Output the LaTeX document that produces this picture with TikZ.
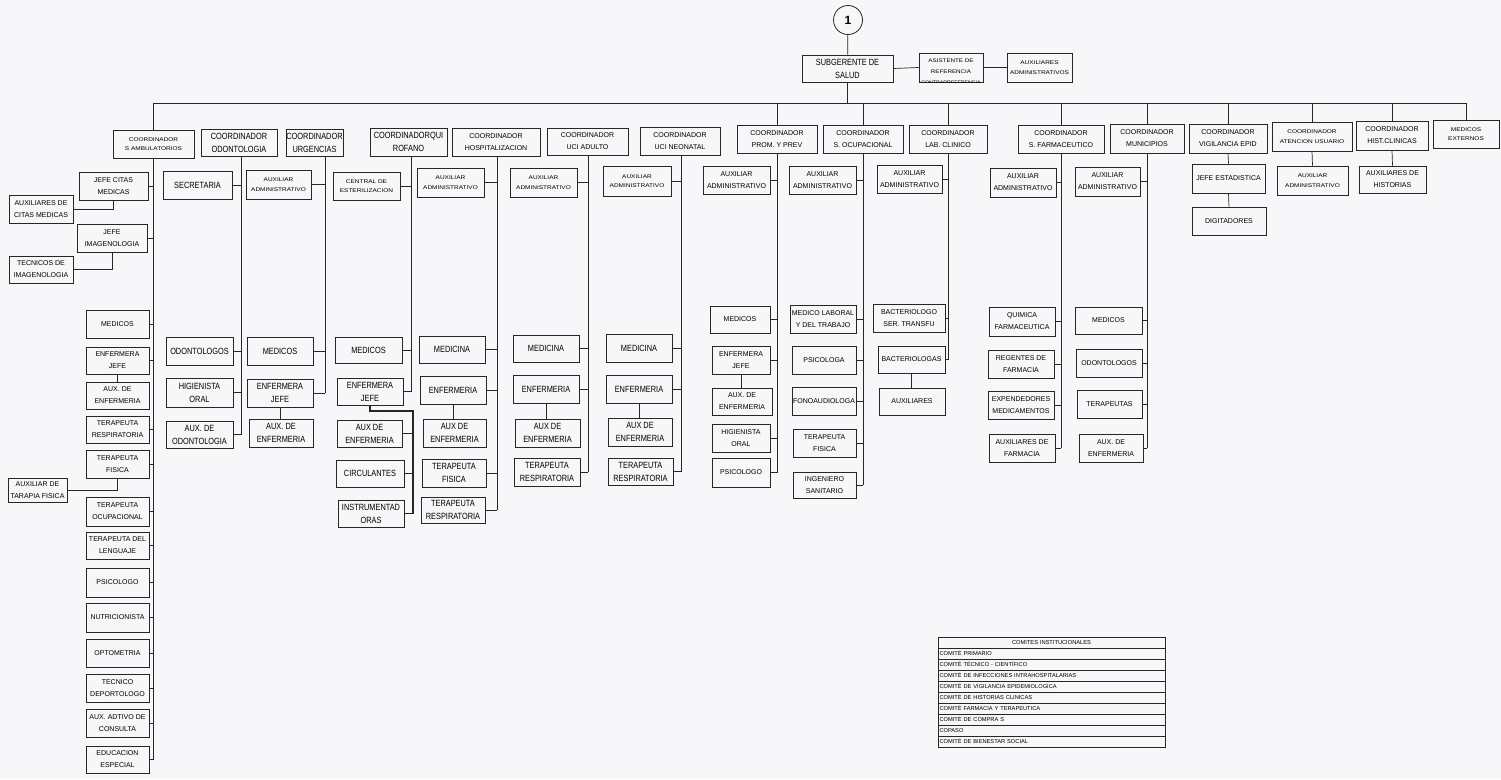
\documentclass[tikz,border=0pt]{standalone}
\usepackage{fontspec}
\setmainfont{Liberation Sans}
\newfontfamily\narrowf{Liberation Sans}[FakeStretch=0.82]
\newfontfamily\widef{Liberation Sans}[FakeStretch=1.2]
\definecolor{ink}{gray}{0.15}
\definecolor{paper}{RGB}{247,247,249}
\tikzset{
  bx/.style={draw=ink, line width=0.7pt, inner sep=0pt, align=center, fill=paper},
  sm/.style={font=\widef\fontsize{5.4}{9.5}\selectfont},
  md/.style={font=\fontsize{7}{12}\selectfont},
  lg/.style={font=\narrowf\fontsize{9}{13}\selectfont},
  ln/.style={draw=ink, line width=0.7pt},
  lnb/.style={draw=ink, line width=1.3pt},
  trow/.style={draw=ink, line width=0.6pt, minimum width=227pt, minimum height=11pt,
    text width=224pt, inner xsep=1.5pt, inner ysep=0pt, align=left,
    font=\fontsize{5.7}{6}\selectfont},
}
% box given by its corners (x1,y1) (x2,y2)
\newcommand\obox[7]{\node[bx,#7,minimum width={(#4)-(#2)},minimum height={(#5)-(#3)}] (#1) at ({((#2)+(#4))/2},{((#3)+(#5))/2}) {#6};}
% horizontal tie from a box to a vertical trunk
\newcommand\tk[2]{\draw[ln] (#1.east) -- (#1.east -| #2);}
\begin{document}
\begin{tikzpicture}[x=1pt,y=-1pt]
\fill[paper] (0,0) rectangle (1501,779);
\useasboundingbox (0,0) rectangle (1501,779);

% ---------------- top of the chart
\node[draw=ink, line width=0.8pt, circle, minimum size=29pt, inner sep=0pt, fill=paper,
      font=\bfseries\fontsize{12}{12}\selectfont] (one) at (848,20) {1};
\obox{sub}{802}{55}{893}{82}{SUBGERENTE DE\\SALUD}{lg}
\obox{asis}{919}{53}{983}{82}{}{sm}
\begin{scope}
  \clip (asis.north west) rectangle (asis.south east);
  \node[font=\widef\fontsize{5.2}{11}\selectfont, align=center, inner sep=0pt] at (951,71.5)
    {ASISTENTE DE\\REFERENCIA\\\rmfamily CONTRARREFERENCIA};
\end{scope}
\obox{auxad}{1007}{53}{1072}{82}{AUXILIARES\\ADMINISTRATIVOS}{sm}
\draw[ln] (one) -- (sub);
\draw[ln] (sub.east) -- (asis.west);
\draw[ln] (asis.east) -- (auxad.west);

% ---------------- coordinators
\obox{c1}{113}{130}{194}{158}{COORDINADOR\\S AMBULATORIOS}{sm}
\obox{c2}{201}{129}{277}{156}{COORDINADOR\\ODONTOLOGIA}{lg}
\obox{c3}{286}{129}{343}{156}{COORDINADOR\\URGENCIAS}{lg}
\obox{c4}{370}{128}{447}{156}{COORDINADORQUI\\ROFANO}{lg}
\obox{c5}{452}{128}{540}{156}{COORDINADOR\\HOSPITALIZACION}{md}
\obox{c6}{547}{128}{628}{155}{COORDINADOR\\UCI ADULTO}{md}
\obox{c7}{640}{127}{720}{155}{COORDINADOR\\UCI NEONATAL}{md}
\obox{c8}{737}{125}{817}{153}{COORDINADOR\\PROM. Y PREV}{md}
\obox{c9}{823}{125}{903}{153}{COORDINADOR\\S. OCUPACIONAL}{md}
\obox{c10}{909}{125}{987}{153}{COORDINADOR\\LAB. CLINICO}{md}
\obox{c11}{1018}{125}{1104}{153}{COORDINADOR\\S. FARMACEUTICO}{md}
\obox{c12}{1110}{124}{1184}{153}{COORDINADOR\\MUNICIPIOS}{md}
\obox{c13}{1189}{124}{1267}{153}{COORDINADOR\\VIGILANCIA EPID}{md}
\obox{c14}{1272}{122}{1352}{151}{COORDINADOR\\ATENCION USUARIO}{sm}
\obox{c15}{1356}{121}{1428}{150}{COORDINADOR\\HIST.CLINICAS}{md}
\obox{c16}{1433}{120}{1499}{148}{MEDICOS\\EXTERNOS}{sm}

\coordinate (bar) at (848,103);
\draw[ln] (sub.south) -- (sub.south |- bar);
\draw[ln] (c1.north |- bar) -- (c16.north |- bar);
\foreach \c in {c1,c8,c9,c10,c11,c12,c13,c14,c15,c16}
  {\draw[ln] (\c.north) -- (\c.north |- bar);}

% ---------------- S. ambulatorios
\obox{a1}{79}{172}{148}{200}{JEFE CITAS\\MEDICAS}{md}
\obox{a2}{9}{195}{73}{223}{AUXILIARES DE\\CITAS MEDICAS}{md}
\obox{a3}{77}{224}{147}{252}{JEFE\\IMAGENOLOGIA}{md}
\obox{a4}{9}{256}{73}{283}{TECNICOS DE\\IMAGENOLOGIA}{md}
\obox{a5}{86}{310}{149}{338}{MEDICOS}{md}
\obox{a6}{86}{347}{149}{374}{ENFERMERA\\JEFE}{md}
\obox{a7}{86}{382}{149}{409}{AUX. DE\\ENFERMERIA}{md}
\obox{a8}{86}{416}{149}{443}{TERAPEUTA\\RESPIRATORIA}{md}
\obox{a9}{86}{450}{149}{478}{TERAPEUTA\\FISICA}{md}
\obox{a10}{8}{478}{67}{502}{AUXILIAR DE\\TARAPIA FISICA}{md}
\obox{a11}{86}{497}{149}{526}{TERAPEUTA\\OCUPACIONAL}{md}
\obox{a12}{86}{532}{149}{559}{TERAPEUTA DEL\\LENGUAJE}{md}
\obox{a13}{86}{568}{149}{597}{PSICOLOGO}{md}
\obox{a14}{86}{603}{149}{632}{NUTRICIONISTA}{md}
\obox{a15}{86}{639}{149}{667}{OPTOMETRIA}{md}
\obox{a16}{86}{674}{149}{702}{TECNICO\\DEPORTOLOGO}{md}
\obox{a17}{86}{709}{149}{737}{AUX. ADTIVO DE\\CONSULTA}{md}
\obox{a18}{86}{746}{149}{773}{EDUCACION\\ESPECIAL}{md}
\coordinate (t1) at (c1.south);
\draw[ln] (t1) -- (t1 |- a18.east);
\foreach \n in {a1,a3,a5,a6,a8,a9,a11,a12,a13,a14,a15,a16,a17,a18} {\tk{\n}{t1}}
\draw[ln] (a1.south) |- (a2.east);
\draw[ln] (a3.south) |- (a4.east);
\draw[ln] (a6.south) -- (a7.north);
\draw[ln] (a9.south) |- (a10.east);

% ---------------- odontologia
\obox{b1}{163}{171}{232}{199}{SECRETARIA}{lg}
\obox{b2}{166}{337}{233}{365}{ODONTOLOGOS}{lg}
\obox{b3}{166}{378}{233}{407}{HIGIENISTA\\ORAL}{lg}
\obox{b4}{166}{421}{233}{448}{AUX. DE\\ODONTOLOGIA}{lg}
\coordinate (t2) at (241,156);
\draw[ln] (t2) -- (t2 |- b4.east);
\foreach \n in {b1,b2,b3,b4} {\tk{\n}{t2}}

% ---------------- urgencias
\obox{u1}{246}{170}{311}{199}{AUXILIAR\\ADMINISTRATIVO}{sm}
\obox{u2}{247}{337}{313}{365}{MEDICOS}{lg}
\obox{u3}{247}{379}{313}{407}{ENFERMERA\\JEFE}{lg}
\obox{u4}{249}{419}{313}{447}{AUX. DE\\ENFERMERIA}{lg}
\coordinate (t3) at (325,156);
\draw[ln] (t3) -- (t3 |- u3.east);
\foreach \n in {u1,u2,u3} {\tk{\n}{t3}}
\draw[ln] (u3.south) -- (u3.south |- u4.north);

% ---------------- quirofano
\obox{q1}{333}{172}{400}{200}{CENTRAL DE\\ESTERILIZACION}{sm}
\obox{q2}{335}{337}{402}{363}{MEDICOS}{lg}
\obox{q3}{337}{378}{403}{405}{ENFERMERA\\JEFE}{lg}
\obox{q4}{337}{420}{402}{447}{AUX DE\\ENFERMERIA}{lg}
\obox{q5}{336}{460}{404}{487}{CIRCULANTES}{lg}
\obox{q6}{338}{500}{404}{527}{INSTRUMENTAD\\ORAS}{lg}
\coordinate (t4) at (411,156);
\draw[ln] (t4) -- (t4 |- q3.east);
\foreach \n in {q1,q2,q3} {\tk{\n}{t4}}
\coordinate (t4b) at (413,411);
\draw[lnb] (q3.south) |- (t4b) -- (t4b |- q6.east);
\foreach \n in {q4,q5,q6} {\tk{\n}{t4b}}

% ---------------- hospitalizacion
\obox{h1}{417}{168}{484}{197}{AUXILIAR\\ADMINISTRATIVO}{sm}
\obox{h2}{419}{336}{485}{363}{MEDICINA}{lg}
\obox{h3}{420}{376}{486}{404}{ENFERMERIA}{lg}
\obox{h4}{423}{419}{486}{447}{AUX DE\\ENFERMERIA}{lg}
\obox{h5}{422}{459}{486}{487}{TERAPEUTA\\FISICA}{lg}
\obox{h6}{421}{497}{485}{523}{TERAPEUTA\\RESPIRATORIA}{lg}
\coordinate (t5) at (497,156);
\draw[ln] (t5) -- (t5 |- h6.east);
\foreach \n in {h1,h2,h3,h5,h6} {\tk{\n}{t5}}
\draw[ln] (h3.south) -- (h3.south |- h4.north);

% ---------------- uci adulto
\obox{d1}{510}{168}{577}{197}{AUXILIAR\\ADMINISTRATIVO}{sm}
\obox{d2}{513}{335}{579}{362}{MEDICINA}{lg}
\obox{d3}{513}{375}{579}{403}{ENFERMERIA}{lg}
\obox{d4}{515}{419}{580}{447}{AUX DE\\ENFERMERIA}{lg}
\obox{d5}{514}{458}{580}{486}{TERAPEUTA\\RESPIRATORIA}{lg}
\coordinate (t6) at (588,155);
\draw[ln] (t6) -- (t6 |- d5.east);
\foreach \n in {d1,d2,d3,d5} {\tk{\n}{t6}}
\draw[ln] (d3.south) -- (d3.south |- d4.north);

% ---------------- uci neonatal
\obox{n1}{603}{166}{671}{196}{AUXILIAR\\ADMINISTRATIVO}{sm}
\obox{n2}{606}{334}{672}{362}{MEDICINA}{lg}
\obox{n3}{606}{375}{672}{403}{ENFERMERIA}{lg}
\obox{n4}{608}{418}{672}{446}{AUX DE\\ENFERMERIA}{lg}
\obox{n5}{608}{458}{673}{485}{TERAPEUTA\\RESPIRATORIA}{lg}
\coordinate (t7) at (681,155);
\draw[ln] (t7) -- (t7 |- n5.east);
\foreach \n in {n1,n2,n3,n5} {\tk{\n}{t7}}
\draw[ln] (n3.south) -- (n3.south |- n4.north);

% ---------------- promocion y prevencion
\obox{p1}{703}{166}{770}{194}{AUXILIAR\\ADMINISTRATIVO}{md}
\obox{p2}{710}{306}{770}{333}{MEDICOS}{md}
\obox{p3}{712}{346}{770}{374}{ENFERMERA\\JEFE}{md}
\obox{p4}{712}{388}{772}{415}{AUX. DE\\ENFERMERIA}{md}
\obox{p5}{712}{424}{770}{452}{HIGIENISTA\\ORAL}{md}
\obox{p6}{712}{458}{770}{487}{PSICOLOGO}{md}
\coordinate (t8) at (c8.south);
\draw[ln] (t8) -- (t8 |- p6.east);
\foreach \n in {p1,p2,p3,p5,p6} {\tk{\n}{t8}}
\draw[ln] (p3.south) -- (p3.south |- p4.north);

% ---------------- salud ocupacional
\obox{o1}{789}{166}{856}{194}{AUXILIAR\\ADMINISTRATIVO}{md}
\obox{o2}{790}{305}{856}{333}{MEDICO LABORAL\\Y DEL TRABAJO}{md}
\obox{o3}{792}{346}{856}{374}{PSICOLOGA}{md}
\obox{o4}{792}{387}{856}{415}{FONOAUDIOLOGA}{md}
\obox{o5}{793}{429}{856}{457}{TERAPEUTA\\FISICA}{md}
\obox{o6}{793}{472}{856}{498}{INGENIERO\\SANITARIO}{md}
\coordinate (t9) at (c9.south);
\draw[ln] (t9) -- (t9 |- o6.east);
\foreach \n in {o1,o2,o3,o4,o5,o6} {\tk{\n}{t9}}

% ---------------- laboratorio clinico
\obox{l1}{877}{165}{942}{193}{AUXILIAR\\ADMINISTRATIVO}{md}
\obox{l2}{873}{304}{945}{332}{BACTERIOLOGO\\SER. TRANSFU}{md}
\obox{l3}{878}{346}{945}{373}{BACTERIOLOGAS}{md}
\obox{l4}{879}{388}{945}{415}{AUXILIARES}{md}
\coordinate (t10) at (c10.south);
\draw[ln] (t10) -- (t10 |- l3.east);
\foreach \n in {l1,l2,l3} {\tk{\n}{t10}}
\draw[ln] (l3.south) -- (l3.south |- l4.north);

% ---------------- servicio farmaceutico
\obox{f1}{990}{168}{1056}{197}{AUXILIAR\\ADMINISTRATIVO}{md}
\obox{f2}{989}{307}{1055}{336}{QUIMICA\\FARMACEUTICA}{md}
\obox{f3}{988}{350}{1054}{378}{REGENTES DE\\FARMACIA}{md}
\obox{f4}{988}{391}{1054}{419}{EXPENDEDORES\\MEDICAMENTOS}{md}
\obox{f5}{989}{434}{1055}{462}{AUXILIARES DE\\FARMACIA}{md}
\coordinate (t11) at (c11.south);
\draw[ln] (t11) -- (t11 |- f5.east);
\foreach \n in {f1,f2,f3,f4,f5} {\tk{\n}{t11}}

% ---------------- municipios
\obox{m1}{1075}{167}{1140}{196}{AUXILIAR\\ADMINISTRATIVO}{md}
\obox{m2}{1075}{307}{1142}{334}{MEDICOS}{md}
\obox{m3}{1076}{349}{1142}{377}{ODONTOLOGOS}{md}
\obox{m4}{1077}{390}{1142}{418}{TERAPEUTAS}{md}
\obox{m5}{1079}{434}{1143}{462}{AUX. DE\\ENFERMERIA}{md}
\coordinate (t12) at (c12.south);
\draw[ln] (t12) -- (t12 |- m5.east);
\foreach \n in {m1,m2,m3,m4,m5} {\tk{\n}{t12}}

% ---------------- vigilancia, atencion, historias
\obox{v1}{1192}{164}{1265}{193}{JEFE ESTADISTICA}{md}
\obox{v2}{1192}{207}{1266}{235}{DIGITADORES}{md}
\draw[ln] (c13.south) -- (v1.north);
\draw[ln] (v1.south) -- (v2.north);
\obox{w1}{1277}{166}{1348}{195}{AUXILIAR\\ADMINISTRATIVO}{sm}
\draw[ln] (c14.south) -- (w1.north);
\obox{x1}{1359}{166}{1426}{193}{AUXILIARES DE\\HISTORIAS}{md}
\draw[ln] (c15.south) -- (x1.north);

% ---------------- committees table
\node[trow, align=center] (r0) at (1051.5,642.5) {COMITES INSTITUCIONALES};
\foreach \t [count=\i] in {COMITÉ PRIMARIO, COMITÉ TÉCNICO - CIENTÍFICO,
    COMITÉ DE INFECCIONES INTRAHOSPITALARIAS, COMITÉ DE VIGILANCIA EPIDEMIOLOGICA,
    COMITÉ DE HISTORIAS CLINICAS, COMITÉ FARMACIA Y TERAPEUTICA,
    COMITÉ DE COMPRA S, COPASO, COMITÉ DE BIENESTAR SOCIAL}
  {\node[trow] (r\i) at (1051.5,{642.5+11*\i}) {\t};}
\end{tikzpicture}
\end{document}
